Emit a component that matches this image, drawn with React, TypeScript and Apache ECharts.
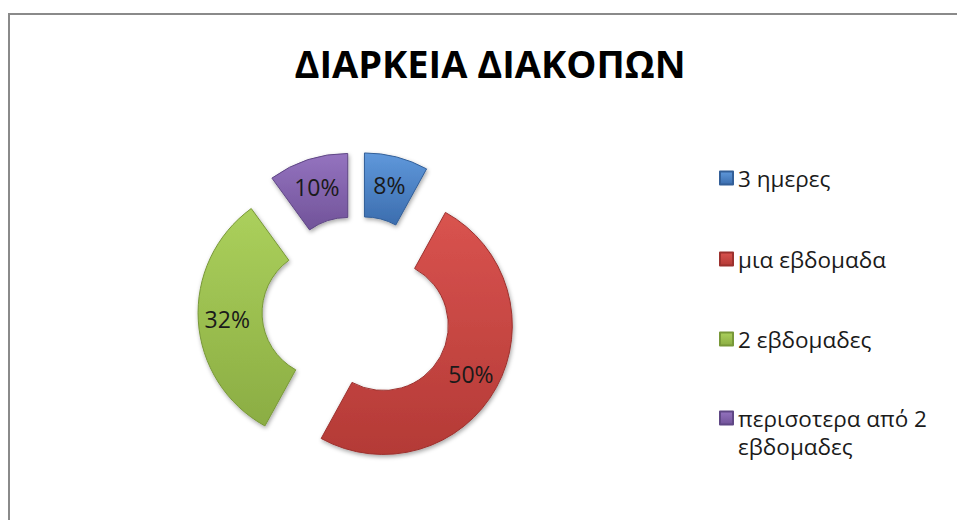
import React, { useEffect, useRef } from "react";
import * as echarts from "echarts";

const titleText = "ΔΙΑΡΚΕΙΑ ΔΙΑΚΟΠΩΝ";
const categories = ["3 ημερες", "μια εβδομαδα", "2 εβδομαδες", "περισοτερα από 2 εβδομαδες"];
const values = [8, 50, 32, 10];
const topColors = ["#5f98db", "#d9534f", "#abd05c", "#9473bf"];
const bottomColors = ["#3b6dae", "#b43a36", "#8bad43", "#715399"];
const borderColors = ["#335f98", "#9c312e", "#789838", "#5f4785"];
const legendCenters = [178, 259, 339, 418];

const FONT = "'Open Sans', 'Noto Sans', sans-serif";

export default function App() {
  const ref = useRef<HTMLDivElement>(null);
  useEffect(() => {
    if (!ref.current) return;
    const chart = echarts.init(ref.current, null, { renderer: "svg" });
    const data = categories.map((name, i) => ({
      name,
      value: values[i],
      selected: true,
      itemStyle: {
        color: new echarts.graphic.LinearGradient(0, 0, 0, 1, [
          { offset: 0, color: topColors[i] },
          { offset: 1, color: bottomColors[i] },
        ]),
        borderColor: borderColors[i],
      },
    }));
    const lineH = 28;
    const legends = categories.map((name, i) => {
      const last = i === categories.length - 1;
      const boxH = last ? lineH * 3 : lineH;
      return {
        orient: "vertical",
        left: 719,
        top: legendCenters[i] - boxH / 2,
        padding: 0,
        data: [name],
        icon: "rect",
        itemWidth: 13,
        itemHeight: 13,
        selectedMode: false,
        formatter: (n: string) => (n === categories[3] ? "\nπερισοτερα από 2\nεβδομαδες" : n),
        textStyle: {
          fontFamily: FONT,
          fontSize: 22.5,
          color: "#1a1a1a",
          lineHeight: lineH,
        },
      };
    });
    chart.setOption({
      animation: false,
      backgroundColor: "#ffffff",
      graphic: [
        {
          type: "rect",
          shape: { x: 9, y: 14, width: 1000, height: 600 },
          style: { fill: "none", stroke: "#8a8a8a", lineWidth: 2 },
          silent: true,
        },
        {
          type: "text",
          x: 490,
          y: 63,
          style: {
            text: titleText,
            font: `bold 38px ${FONT}`,
            fill: "#000000",
            textAlign: "center",
            textVerticalAlign: "middle",
          },
        },
      ],
      legend: legends,
      series: [
        {
          type: "pie",
          center: [357, 311],
          radius: [65, 129],
          startAngle: 90,
          clockwise: true,
          selectedMode: "multiple",
          selectedOffset: 30,
          avoidLabelOverlap: false,
          itemStyle: {
            borderWidth: 1,
            shadowBlur: 4,
            shadowColor: "rgba(0,0,0,0.35)",
            shadowOffsetX: 1,
            shadowOffsetY: 2,
          },
          label: {
            show: true,
            position: "inside",
            formatter: "{c}%",
            fontFamily: FONT,
            fontSize: 23,
            color: "#1a1a1a",
          },
          labelLine: { show: false },
          emphasis: { scale: false },
          data,
        },
      ],
    });
    return () => chart.dispose();
  }, []);
  return (
    <div
      ref={ref}
      style={{ position: "fixed", left: 0, top: 0, width: 957, height: 520 }}
    />
  );
}
